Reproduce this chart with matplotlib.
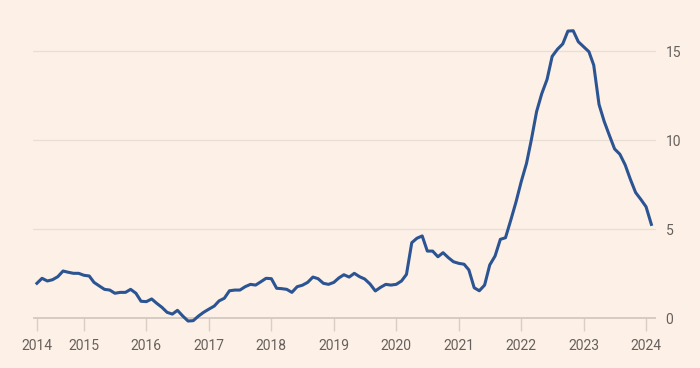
import numpy as np
import pandas as pd
import matplotlib
matplotlib.use("Agg")
import matplotlib.pyplot as plt
import matplotlib.dates as mdates

# monthly values, April 2014 to February 2024
values = [
    1.95, 2.23, 2.08, 2.15, 2.32, 2.64, 2.57, 2.51, 2.51, 2.40,
    2.36, 2.00, 1.80, 1.61, 1.57, 1.39, 1.44, 1.44, 1.61, 1.39,
    0.94, 0.92, 1.07, 0.83, 0.60, 0.32, 0.22, 0.43, 0.11, -0.17,
    -0.15, 0.11, 0.32, 0.50, 0.67, 0.96, 1.11, 1.53, 1.57, 1.57,
    1.76, 1.89, 1.85, 2.04, 2.23, 2.21, 1.67, 1.65, 1.61, 1.44,
    1.76, 1.84, 2.00, 2.30, 2.21, 1.95, 1.89, 2.00, 2.26, 2.43,
    2.30, 2.51, 2.32, 2.19, 1.91, 1.52, 1.72, 1.89, 1.85, 1.89,
    2.08, 2.45, 4.23, 4.48, 4.61, 3.76, 3.76, 3.44, 3.67, 3.39,
    3.16, 3.07, 3.02, 2.70, 1.70, 1.53, 1.85, 2.98, 3.48, 4.42,
    4.51, 5.50, 6.50, 7.66, 8.69, 10.00, 11.60, 12.60, 13.40, 14.70,
    15.10, 15.40, 16.12, 16.14, 15.52, 15.24, 14.96, 14.21, 12.00, 11.05,
    10.25, 9.50, 9.20, 8.60, 7.80, 7.05, 6.67, 6.25, 5.26,
]
dates = pd.date_range("2014-04-01", periods=len(values), freq="MS")

tick_dates = [pd.Timestamp("2014-04-01")] + [pd.Timestamp(f"{y}-01-01") for y in range(2015, 2025)]
tick_labels = [str(y) for y in range(2014, 2025)]
y_ticks = [0, 5, 10, 15]

bg = "#fdf0e6"
text_col = "#66605c"
plt.rcParams["font.family"] = ["Roboto", "DejaVu Sans"]

fig = plt.figure(figsize=(7, 3.68), dpi=100, facecolor=bg)
ax = fig.add_axes([0.0471, 0.0875, 0.89, 0.8706], facecolor=bg)

ax.plot(dates, values, color="#2b5493", linewidth=2.2, solid_joinstyle="round", zorder=3)

ax.set_ylim(-1, 17)
ax.set_xlim(pd.Timestamp("2014-03-09"), pd.Timestamp("2024-02-28"))

for y in y_ticks[1:]:
    ax.axhline(y, color="#e8ded4", linewidth=0.9, zorder=1)
ax.axhline(0, color="#cfc5bc", linewidth=1.2, zorder=2)

for s in ax.spines.values():
    s.set_visible(False)

ax.yaxis.tick_right()
ax.set_yticks(y_ticks)
ax.set_yticklabels([str(v) for v in y_ticks])
ax.tick_params(axis="y", length=0, pad=7, labelsize=10, labelcolor=text_col)

ax.set_xticks(tick_dates)
ax.set_xticklabels(tick_labels)
ax.tick_params(axis="x", length=9, width=1, color="#d9cfc6", pad=6,
               labelsize=10, labelcolor=text_col)
# x ticks hang below the zero baseline
ax.spines["bottom"].set_position(("data", 0))

fig.savefig("out.png", dpi=100, facecolor=bg)
